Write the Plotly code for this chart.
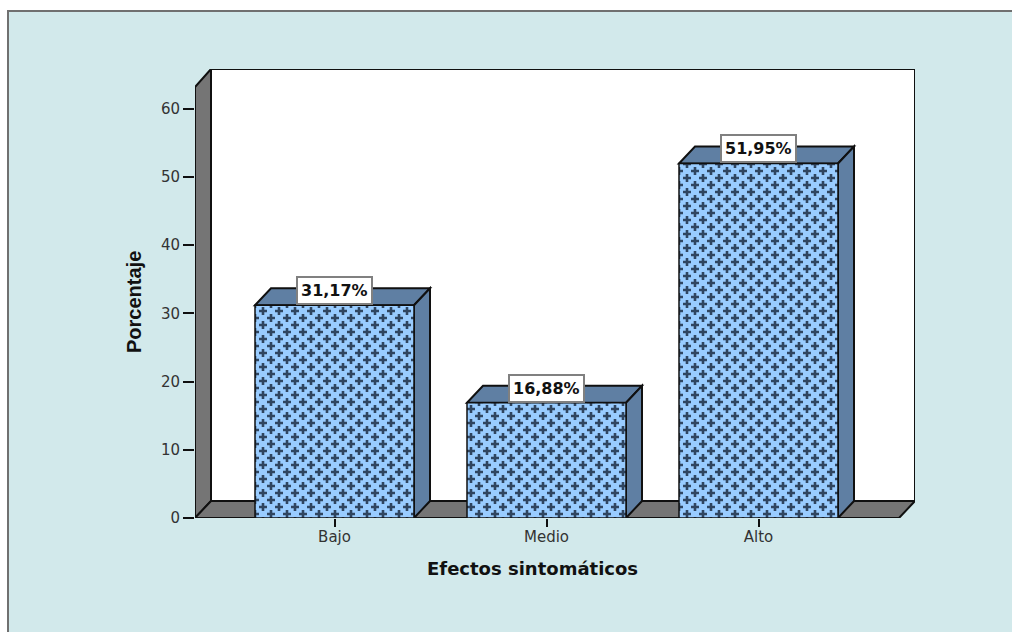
import plotly.graph_objects as go

categories = ["Bajo", "Medio", "Alto"]
values = [31.17, 16.88, 51.95]
labels = ["31,17%", "16,88%", "51,95%"]
y_ticks = [0, 10, 20, 30, 40, 50, 60]
x_title = "Efectos sintomáticos"
y_title = "Porcentaje"

W, H = 1012, 632
L, R, T, B = 195, 915, 69, 518
PX_X, PX_Y = 212.0, 6.825
X0 = 334.5
xr = [(L - X0) / PX_X, (R - X0) / PX_X]
yr = [0, (B - T) / PX_Y]
DX, DY = 16 / PX_X, 17 / PX_Y
BW = 159 / PX_X
AX_TOP = (B - 87) / PX_Y
FRONT_R = xr[1] - DX

PANEL = "#d2e9eb"; WALL = "#757575"; SIDE = "#5f7fa3"; BAR = "#99ccff"; INK = "#101010"
CROSS = "#2f4560"


def poly(pts, fill, lw=2):
    d = "M " + " L ".join(f"{x},{y}" for x, y in pts) + " Z"
    return dict(type="path", path=d, xref="x", yref="y", fillcolor=fill,
                line=dict(color=INK, width=lw), layer="below")


pw, ph = R - L, B - T
shapes = [dict(type="rect", xref="paper", yref="paper", layer="below",
               x0=(8 - L) / pw, x1=(W + 20 - L) / pw,
               y0=(B - (H + 20)) / ph, y1=(B - 11) / ph,
               fillcolor=PANEL, line=dict(color="#707070", width=2))]
shapes += [
    poly([(xr[0] + DX, DY), (xr[1], DY), (xr[1], yr[1]), (xr[0] + DX, yr[1])], "white"),
    poly([(xr[0], 0), (xr[0], AX_TOP), (xr[0] + DX, yr[1]), (xr[0] + DX, DY)], WALL),
    poly([(xr[0], 0), (xr[0] + DX, DY), (xr[1], DY), (FRONT_R, 0)], WALL),
]
for i, v in enumerate(values):
    a, b = i - BW / 2, i + BW / 2
    shapes.append(poly([(a, v), (a + DX, v + DY), (b + DX, v + DY), (b, v)], SIDE))
    shapes.append(poly([(b, 0), (b + DX, DY), (b + DX, v + DY), (b, v)], SIDE))

fig = go.Figure(go.Bar(
    x=list(range(3)), y=values, width=BW, cliponaxis=False,
    marker=dict(color=BAR, line=dict(color=INK, width=1.5),
                pattern=dict(shape="x", fgcolor=CROSS, bgcolor=BAR, size=11, solidity=0.3)),
))
for i, (v, t) in enumerate(zip(values, labels)):
    fig.add_annotation(x=i, y=v, text=f"<b>{t}</b>", showarrow=False, yanchor="bottom",
                       xanchor="center", bgcolor="white", bordercolor="#808080", borderwidth=2,
                       borderpad=3, font=dict(family="DejaVu Sans", size=16, color="#111"))
fig.add_annotation(xref="paper", yref="paper", x=(532 - L) / pw, y=(B - 568) / ph,
                   text=f"<b>{x_title}</b>", showarrow=False, xanchor="center", yanchor="middle",
                   font=dict(family="DejaVu Sans", size=18, color="#111"))
fig.add_annotation(xref="paper", yref="paper", x=(134 - L) / pw, y=(B - 302) / ph,
                   text=f"<b>{y_title}</b>", showarrow=False, xanchor="center", yanchor="middle",
                   textangle=-90, font=dict(family="Liberation Sans", size=20, color="#111"))

fig.update_layout(
    width=W, height=H, margin=dict(l=L, r=W - R, t=T, b=H - B),
    paper_bgcolor="white", plot_bgcolor="rgba(0,0,0,0)", showlegend=False, shapes=shapes,
    font=dict(family="DejaVu Sans", color="#333"),
)
fig.update_xaxes(range=xr, tickvals=list(range(3)), ticktext=categories, showgrid=False,
                 zeroline=False, showline=False, ticks="outside", ticklen=8, tickcolor=INK,
                 tickwidth=1.5, tickfont=dict(size=15), ticklabelstandoff=-3)
fig.update_yaxes(range=yr, tickvals=y_ticks, showgrid=False, zeroline=False, showline=False,
                 ticks="outside", ticklen=11, tickcolor=INK, tickwidth=1.5, tickfont=dict(size=15))

# Staggered-cross hatch: Plotly has no such built-in bar pattern, so its tile is swapped.
post = """
document.body.style.margin='0';
document.querySelectorAll('pattern').forEach(function(p){
  p.setAttribute('width','16'); p.setAttribute('height','14');
  var c=function(x,y){return 'M'+(x-1.3)+' '+(y-4)+'h2.6v2.7h2.7v2.6h-2.7v2.7h-2.6v-2.7h-2.7v-2.6h2.7z';};
  p.innerHTML='<rect width="16" height="14" fill="%s"/>'+
    '<path fill="%s" d="'+c(4,4)+c(12,11)+c(-4,11)+c(20,4)+c(4,18)+c(12,-3)+'"/>';
});
""" % (BAR, CROSS)
fig.write_html("out.html", config=dict(displayModeBar=False), post_script=post)
